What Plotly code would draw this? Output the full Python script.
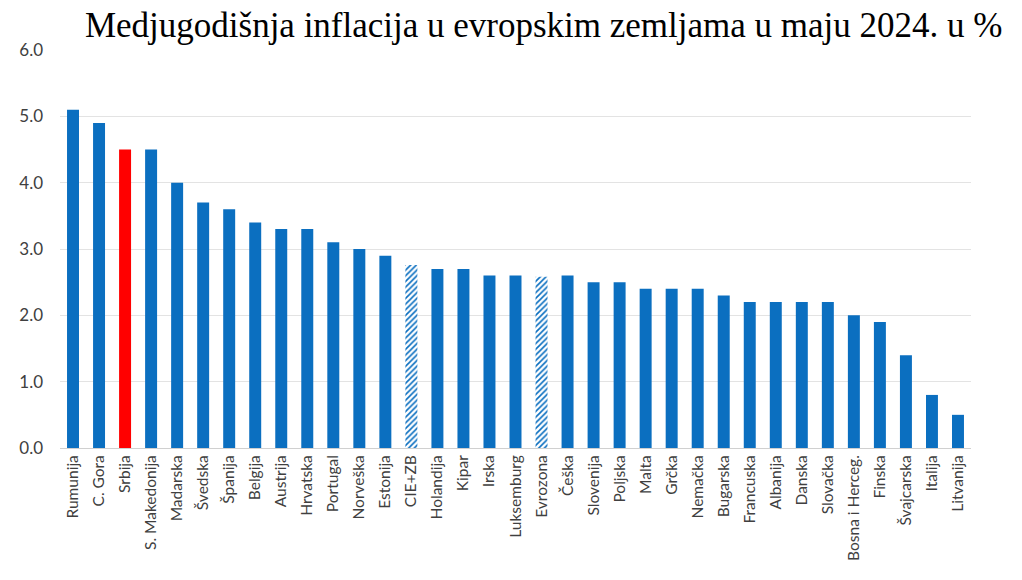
import plotly.graph_objects as go

categories = ["Rumunija", "C. Gora", "Srbija", "S. Makedonija", "Madarska", "Švedska", "Španija",
              "Belgija", "Austrija", "Hrvatska", "Portugal", "Norveška", "Estonija", "CIE+ZB",
              "Holandija", "Kipar", "Irska", "Luksemburg", "Evrozona", "Češka", "Slovenija",
              "Poljska", "Malta", "Grčka", "Nemačka", "Bugarska", "Francuska", "Albanija",
              "Danska", "Slovačka", "Bosna i Herceg.", "Finska", "Švajcarska", "Italija", "Litvanija"]
values = [5.1, 4.9, 4.5, 4.5, 4.0, 3.7, 3.6, 3.4, 3.3, 3.3, 3.1, 3.0, 2.9, 2.76,
          2.7, 2.7, 2.6, 2.6, 2.58, 2.6, 2.5, 2.5, 2.4, 2.4, 2.4, 2.3, 2.2, 2.2,
          2.2, 2.2, 2.0, 1.9, 1.4, 0.8, 0.5]
hatched = ["CIE+ZB", "Evrozona"]
highlight = "Srbija"

BLUE = "#0b6fc0"
RED = "#ff0000"

solid_vals = [None if c in hatched else v for c, v in zip(categories, values)]
hatch_vals = [v if c in hatched else None for c, v in zip(categories, values)]
colors = [RED if c == highlight else BLUE for c in categories]

fig = go.Figure()
fig.add_trace(go.Bar(x=categories, y=solid_vals, marker=dict(color=colors, line=dict(width=0))))
fig.add_trace(go.Bar(
    x=categories, y=hatch_vals,
    marker=dict(color="white", line=dict(width=0),
                pattern=dict(shape="/", fgcolor=BLUE, bgcolor="white", size=4,
                             solidity=0.4, fillmode="replace")),
))

fig.update_layout(
    width=1022, height=580,
    margin=dict(l=60, r=51, t=50, b=132),
    paper_bgcolor="white", plot_bgcolor="white",
    barmode="overlay",
    bargap=0.54,
    showlegend=False,
    title=dict(text="Medjugodišnja inflacija u evropskim zemljama u maju 2024. u %",
               font=dict(family="Liberation Serif", size=35, color="black"),
               x=0.532, xanchor="center", y=0.958, yanchor="middle"),
    font=dict(family="Lato", color="#595959"),
)
fig.update_yaxes(range=[0, 6], dtick=1, tickformat=".1f", showgrid=True, gridcolor="#e3e3e3",
                 gridwidth=1, zeroline=False, showline=False, ticks="",
                 tickfont=dict(size=17, color="#404040"), ticklabelstandoff=16)
fig.update_xaxes(tickangle=-90, showline=True, linecolor="#d0d0d0", linewidth=1,
                 tickfont=dict(size=15.5, color="#404040"), ticks="", showgrid=False)

fig.write_html("out.html")
